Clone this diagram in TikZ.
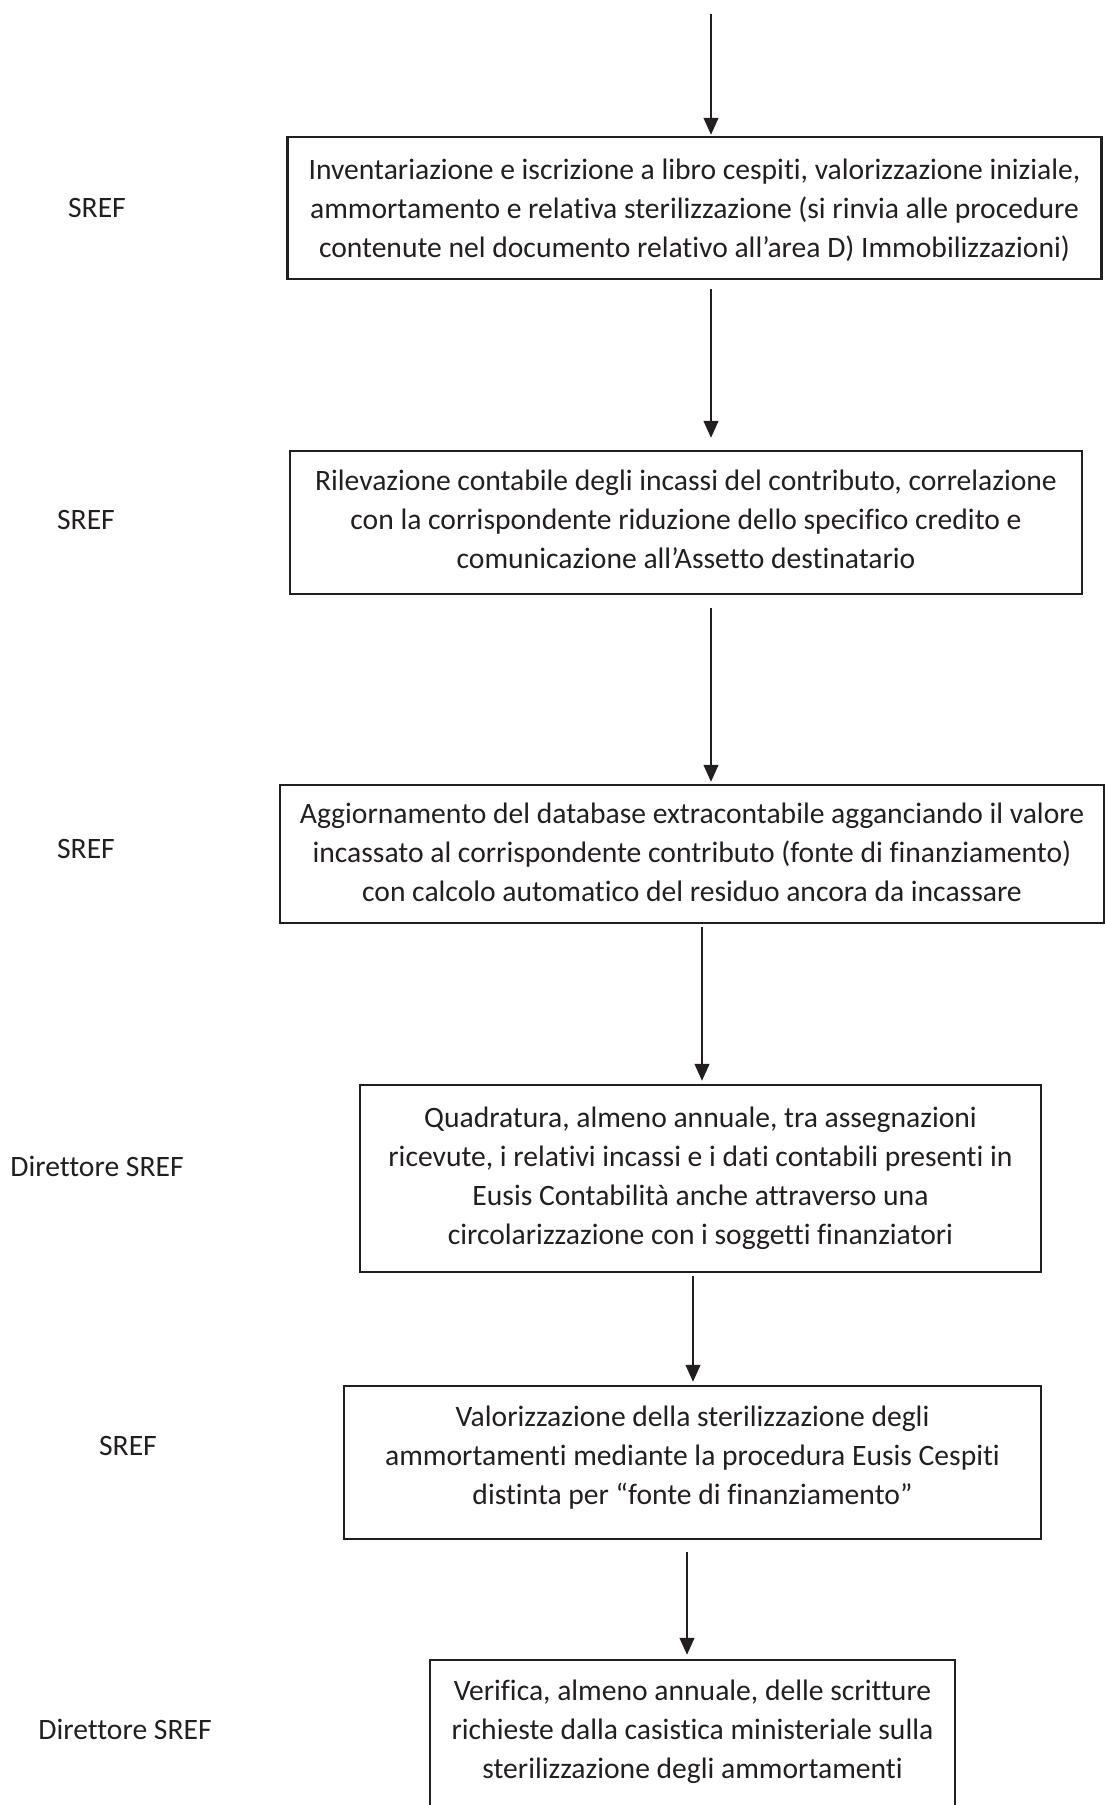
\documentclass[tikz,border=0pt]{standalone}
\usepackage{fontspec}
\setmainfont{Carlito}[Ligatures=NoCommon]
\usetikzlibrary{arrows.meta}
\definecolor{ink}{HTML}{231F20}
\begin{document}
\begin{tikzpicture}[x=1pt,y=-1pt,
  txt/.style={font=\fontsize{29.6}{39}\selectfont, text=ink},
  box/.style={txt, draw=ink, line width=2.5pt, align=center, inner sep=0pt},
  lbl/.style={txt, inner sep=0pt},
  arr/.style={draw=ink, line width=1.1pt, -{Triangle[width=15pt,length=17pt]}}]
\useasboundingbox (0,0) rectangle (1105,1805);

% process steps
\node[box, minimum width=814pt, minimum height=142pt, text depth=-2pt] (b1) at (694.5,208)
  {Inventariazione e iscrizione a libro cespiti, valorizzazione iniziale,\\
   ammortamento e relativa sterilizzazione (si rinvia alle procedure\\
   contenute nel documento relativo all’area D) Immobilizzazioni)};
\node[box, minimum width=792pt, minimum height=143pt, text depth=7pt] (b2) at (686,522.5)
  {Rilevazione contabile degli incassi del contributo, correlazione\\
   con la corrispondente riduzione dello specifico credito e\\
   comunicazione all’Assetto destinatario};
\node[box, minimum width=824pt, minimum height=138pt, text depth=4.5pt] (b3) at (692,854)
  {Aggiornamento del database extracontabile agganciando il valore\\
   incassato al corrispondente contributo (fonte di finanziamento)\\
   con calcolo automatico del residuo ancora da incassare};
\node[box, minimum width=681pt, minimum height=187pt] (b4) at (700.5,1178.5)
  {Quadratura, almeno annuale, tra assegnazioni\\
   ricevute, i relativi incassi e i dati contabili presenti in\\
   Eusis Contabilità anche attraverso una\\
   circolarizzazione con i soggetti finanziatori};
\node[box, minimum width=697pt, minimum height=153pt, text depth=15pt] (b5) at (692.5,1462.5)
  {Valorizzazione della sterilizzazione degli\\
   ammortamenti mediante la procedura Eusis Cespiti\\
   distinta per “fonte di finanziamento”};
\node[box, minimum width=525pt, minimum height=155pt, text depth=16pt] (b6) at (692.5,1737.5)
  {Verifica, almeno annuale, delle scritture\\
   richieste dalla casistica ministeriale sulla\\
   sterilizzazione degli ammortamenti};

% responsible office for each step
\node[lbl] (r1) at (97,208)   {SREF};
\node[lbl] (r2) at (86,520)   {SREF};
\node[lbl] (r3) at (86,849)   {SREF};
\node[lbl] (r4) at (97,1166)  {Direttore SREF};
\node[lbl] (r5) at (128,1446) {SREF};
\node[lbl] (r6) at (125,1729) {Direttore SREF};

% connector columns
\coordinate (start) at (711,14);
\coordinate (c12) at (711,0);
\coordinate (c23) at (711,0);
\coordinate (c34) at (702,0);
\coordinate (c45) at (693,0);
\coordinate (c56) at (687,0);

\draw[arr, shorten >=1pt] (start) -- (b1.north -| start);
\draw[arr, shorten <=9pt, shorten >=12pt] (b1.south -| c12) -- (b2.north -| c12);
\draw[arr, shorten <=13pt, shorten >=2pt] (b2.south -| c23) -- (b3.north -| c23);
\draw[arr, shorten <=3pt, shorten >=3pt] (b3.south -| c34) -- (b4.north -| c34);
\draw[arr, shorten <=3pt, shorten >=3pt] (b4.south -| c45) -- (b5.north -| c45);
\draw[arr, shorten <=12pt, shorten >=4pt] (b5.south -| c56) -- (b6.north -| c56);
\end{tikzpicture}
\end{document}
